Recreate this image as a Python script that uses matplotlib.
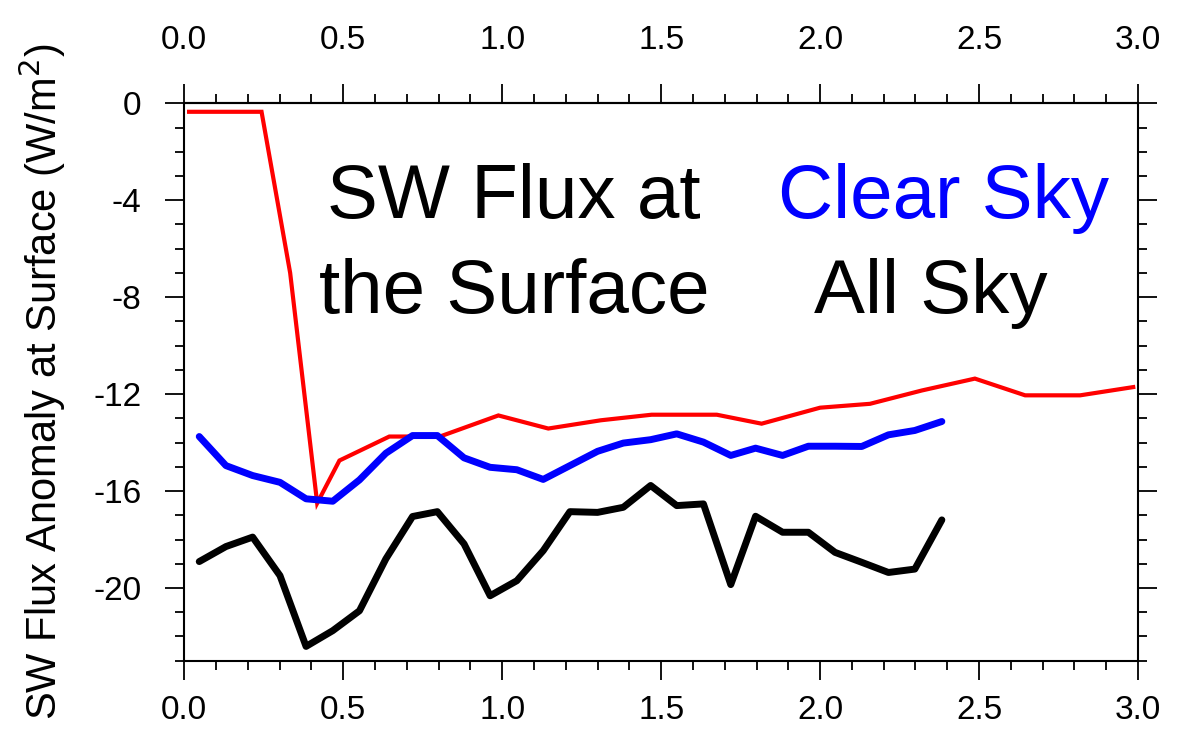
import matplotlib
matplotlib.use("Agg")
import matplotlib.pyplot as plt
from matplotlib.ticker import MultipleLocator

plt.rcParams['font.family'] = ['Liberation Sans', 'DejaVu Sans']

# ---- data ----
red_x = [0.015, 0.243, 0.333, 0.418, 0.488, 0.645, 0.804, 0.988, 1.145, 1.31,
         1.47, 1.675, 1.816, 2.0, 2.157, 2.32, 2.487, 2.645, 2.818, 2.985]
red_y = [-0.35, -0.35, -7.0, -16.5, -14.74, -13.75, -13.75, -12.88, -13.42, -13.08,
         -12.85, -12.85, -13.22, -12.56, -12.4, -11.85, -11.36, -12.05, -12.05, -11.71]

sky_x = [0.047, 0.131, 0.215, 0.301, 0.383, 0.467, 0.551, 0.634, 0.718, 0.796,
         0.88, 0.962, 1.046, 1.129, 1.213, 1.30, 1.381, 1.467, 1.549, 1.633,
         1.719, 1.797, 1.882, 1.963, 2.047, 2.131, 2.215, 2.298, 2.383]
all_sky = [-18.91, -18.29, -17.9, -19.49, -22.41, -21.76, -20.94, -18.8, -17.05, -16.85,
           -18.18, -20.32, -19.7, -18.46, -16.85, -16.88, -16.67, -15.77, -16.6, -16.53,
           -19.86, -17.04, -17.7, -17.7, -18.53, -18.94, -19.36, -19.22, -17.19]
clear_sky = [-13.75, -14.95, -15.36, -15.64, -16.32, -16.42, -15.54, -14.44, -13.71, -13.71,
             -14.63, -15.02, -15.12, -15.52, -14.95, -14.36, -14.02, -13.88, -13.64, -13.98,
             -14.53, -14.23, -14.53, -14.15, -14.15, -14.16, -13.68, -13.5, -13.13]

xticks = [0.0, 0.5, 1.0, 1.5, 2.0, 2.5, 3.0]
xticklabels = ["0.0", "0.5", "1.0", "1.5", "2.0", "2.5", "3.0"]
yticks = [-20, -16, -12, -8, -4, 0]
yticklabels = ["-20", "-16", "-12", "-8", "-4", "0"]

W, H = 1187, 733
fig = plt.figure(figsize=(W / 100, H / 100), dpi=100)
ax = fig.add_axes([184.3 / W, 1 - 660.7 / H, (1138 - 184.3) / W, (660.7 - 103.3) / H])

ax.plot(red_x, red_y, color='#ff0000', lw=3.0, solid_joinstyle='miter', zorder=3)
ax.plot(sky_x, clear_sky, color='#0000ff', lw=5.0, solid_capstyle='round', zorder=4)
ax.plot(sky_x, all_sky, color='black', lw=5.0, solid_capstyle='round', zorder=4)

ax.set_xlim(0, 3.0)
ax.set_ylim(-23, 0)
ax.set_xticks(xticks)
ax.set_xticklabels(xticklabels)
ax.set_yticks(yticks)
ax.set_yticklabels(yticklabels)
ax.xaxis.set_minor_locator(MultipleLocator(0.1))
ax.yaxis.set_minor_locator(MultipleLocator(1))

for s in ax.spines.values():
    s.set_linewidth(1.5)

ax.tick_params(which='both', direction='out', top=False, right=True,
               labeltop=False, labelbottom=True, labelleft=True, labelright=False,
               labelsize=24, width=1.3)
ax.tick_params(which='major', length=13.7)
ax.tick_params(which='minor', length=6.8)
ax.tick_params(axis='x', which='major', pad=11)
ax.tick_params(axis='y', which='major', pad=17)

# top axis with its own label spacing
sec = ax.secondary_xaxis('top')
sec.set_xticks(xticks)
sec.set_xticklabels(xticklabels)
sec.xaxis.set_minor_locator(MultipleLocator(0.1))
sec.spines['top'].set_linewidth(1.5)
sec.tick_params(which='both', direction='out', labelsize=24, width=1.3)
sec.tick_params(which='major', length=13.7, pad=20)
sec.tick_params(which='minor', length=6.8)

ax.set_ylabel("SW Flux Anomaly at Surface (W/m$^2$)", fontsize=30, labelpad=18)

fs_big = 55
fig.text(514 / W, 1 - 218.3 / H, "SW Flux at", fontsize=fs_big, ha='center', va='baseline')
fig.text(514 / W, 1 - 313.3 / H, "the Surface", fontsize=fs_big, ha='center', va='baseline')
fig.text(944 / W, 1 - 218.3 / H, "Clear Sky", fontsize=fs_big, ha='center', va='baseline', color='#0000ff')
fig.text(931 / W, 1 - 313.3 / H, "All Sky", fontsize=fs_big, ha='center', va='baseline')

fig.savefig("out.png", dpi=100)
